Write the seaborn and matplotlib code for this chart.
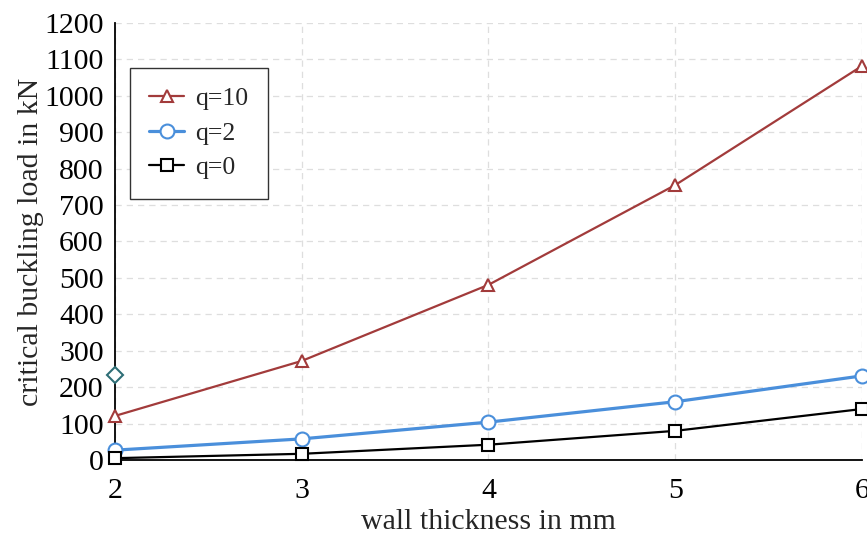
import numpy as np
import pandas as pd
import matplotlib
matplotlib.use("Agg")
import matplotlib.pyplot as plt
import seaborn as sns
from matplotlib.ticker import MultipleLocator

thickness = [2, 3, 4, 5, 6]
q10 = [121, 272, 481, 755, 1082]
q2 = [27, 58, 104, 160, 231]
q0 = [5, 17, 42, 80, 140]
extra_x = [2]
extra_y = [234]

series_names = ["q=10", "q=2", "q=0"]
colors = {"q=10": "#A23B3B", "q=2": "#4A8FDB", "q=0": "#000000"}
markers = {"q=10": "^", "q=2": "o", "q=0": "s"}
msizes = {"q=10": 9, "q=2": 10, "q=0": 8}
lws = {"q=10": 1.6, "q=2": 2.3, "q=0": 1.6}

df = pd.DataFrame({
    "thickness": thickness * 3,
    "load": q10 + q2 + q0,
    "series": sum([[n] * len(thickness) for n in series_names], []),
})

sns.set_style("white")
plt.rcParams["font.family"] = ["Liberation Serif", "DejaVu Serif"]

fig = plt.figure(figsize=(8.67, 5.35), dpi=100)
ax = fig.add_axes([0.1326, 0.1402, 0.8616, 0.8168])

for n in series_names:
    sub = df[df["series"] == n]
    sns.lineplot(data=sub, x="thickness", y="load", ax=ax, color=colors[n],
                 marker=markers[n], markersize=msizes[n], markerfacecolor="white",
                 markeredgecolor=colors[n], markeredgewidth=1.5, linewidth=lws[n],
                 label=n, clip_on=False, zorder=3)

ax.plot(extra_x, extra_y, linestyle="none", marker="D", markersize=8,
        markerfacecolor="white", markeredgecolor="#2E6E76", markeredgewidth=1.5,
        clip_on=False, zorder=4)

ax.set_xlim(2, 6)
ax.set_ylim(0, 1200)
ax.xaxis.set_major_locator(MultipleLocator(1))
ax.yaxis.set_major_locator(MultipleLocator(100))
ax.yaxis.set_minor_locator(MultipleLocator(50))

ax.grid(True, which="major", linestyle=(0, (5, 4)), color="#dedede", linewidth=0.9)
ax.set_axisbelow(True)

for s in ["top", "right"]:
    ax.spines[s].set_visible(False)
for s in ["left", "bottom"]:
    ax.spines[s].set_color("black")
    ax.spines[s].set_linewidth(1.3)

ax.tick_params(axis="both", which="major", direction="out", length=6, width=1.2,
               labelsize=21.5, color="black", labelcolor="black", pad=2)
ax.tick_params(axis="y", which="minor", direction="out", length=4, width=1.0, color="black")
ax.tick_params(axis="x", which="major", pad=7)

ax.set_xlabel("wall thickness in mm", fontsize=21.5, labelpad=3.5)
ax.set_ylabel("critical buckling load in kN", fontsize=21.5, labelpad=0)

leg = ax.legend(loc="upper left", bbox_to_anchor=(0.02, 0.897), borderaxespad=0,
                fontsize=18.5, frameon=True, fancybox=False, edgecolor="#333333",
                framealpha=1, handlelength=1.35, borderpad=0.75, labelspacing=0.45,
                handletextpad=0.45)
leg.get_frame().set_linewidth(1.0)

fig.savefig("out.png", dpi=100)
